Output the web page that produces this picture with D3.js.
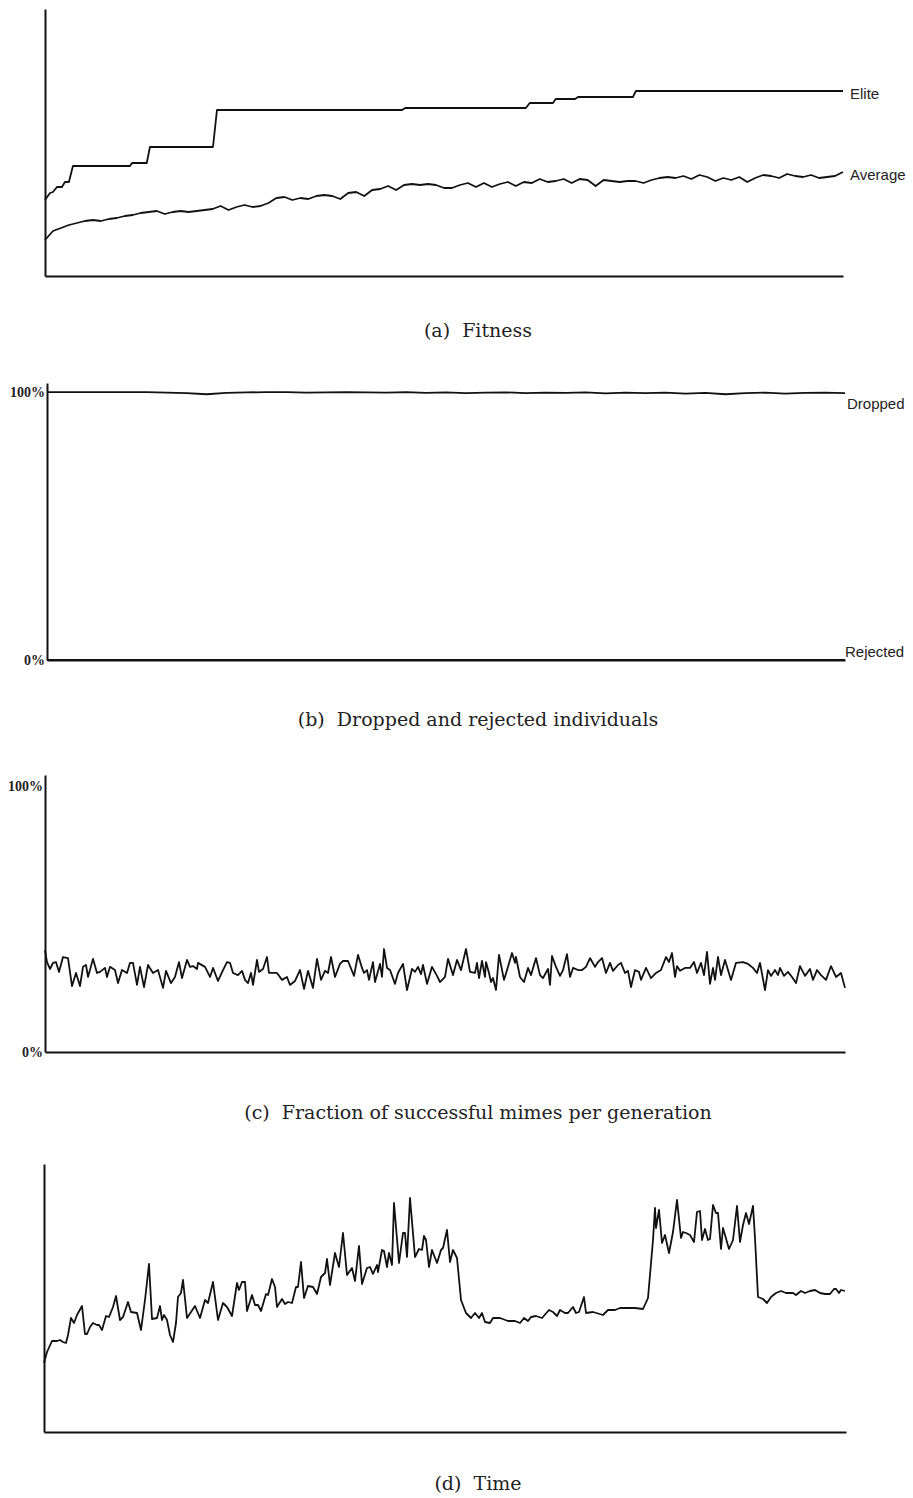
<!DOCTYPE html>
<html>
<head>
<meta charset="utf-8">
<script src="https://cdn.jsdelivr.net/npm/d3@7/dist/d3.min.js"></script>
<style>
  html, body { margin: 0; padding: 0; background: #fff; }
  svg { display: block; }
  .cap { font-family: "DejaVu Serif", serif; font-size: 19px; fill: #222; white-space: pre; }
  .lab { font-family: "Liberation Sans", Arial, sans-serif; font-size: 15px; fill: #222; }
  .tick text { font-family: "Liberation Serif", serif; font-size: 14px; font-weight: bold; fill: #222; }
</style>
</head>
<body>
<svg id="chart" width="913" height="1498"></svg>
<script>
// ---------------- DATA ----------------
// (a) Fitness: elite (step changes) as [generation, fitness]
const eliteFitness = [[0,76],[2.5,83],[4,84],[6,89],[8.5,89],[10,94],[12,94],[14,110],[42.6,110],[43.6,113],[51,113],[52.6,129],[84.2,129],[86.2,166],[179,166],[180.5,168],[241,168],[243,173],[254.6,173],[256,177],[265.7,177],[267.2,179],[294.7,179],[296.2,185],[400,185]];
// (a) Fitness: average, every 4 generations (0..400)
const averageFitness = [36,45,48,51,53,55,56,55,57,58,
  60,61,63,64,65,62,64,65,64,65,
  66,67,70,66,69,71,69,70,73,78,
  79,76,78,77,80,81,80,77,83,84,
  80,86,87,90,86,91,92,91,92,91,
  88,88,91,93,89,93,89,92,94,90,
  94,93,97,94,95,97,93,97,96,90,
  96,95,94,95,95,93,96,98,99,98,
  100,97,101,99,95,98,96,99,94,98,
  101,100,98,102,100,99,101,98,99,100,
  104];
const averageStep = 4;
// (b) Dropped / rejected individuals (%), every 10 generations
const droppedPct = [100,100,100,100,100,100,99.8,99.6,99.2,99.7,99.9,100,100,99.8,99.9,100,99.9,99.8,100,99.7,99.9,99.6,99.8,99.9,99.6,99.8,99.7,99.9,99.5,99.8,99.6,99.8,99.4,99.7,99.2,99.6,99.8,99.4,99.7,99.8,99.6];
const rejectedPct = [[0,0],[400,0]];
const dropStep = 10;
// (c) Fraction of successful mimes per generation (%), [generation, %]
const successPct = [[0,38.3],[1,33.8],[2.5,31.2],[4,33.5],[5.5,33.8],[7,30.1],[9,35.7],[11.5,35.3],[13.5,24.8],[15.5,29.7],[17.5,24.8],[19,32.0],[20.5,32.7],[21.5,28.2],[24,35.0],[26,29.7],[27.5,30.1],[30,31.6],[31,28.2],[32.5,32.0],[35,30.8],[36.5,25.9],[38.5,30.8],[41,29.7],[42.5,33.5],[44,33.5],[46,25.2],[47.5,32.0],[49.5,24.4],[51.5,32.7],[54,29.7],[56.5,30.8],[59,24.1],[60.5,30.5],[63,25.9],[65,28.2],[67,33.8],[68.5,27.8],[71,34.6],[72.5,32.0],[74,32.3],[76,31.2],[76.5,33.5],[80,32.0],[82.5,28.2],[84,31.6],[86.5,26.7],[89,30.8],[91,33.8],[92.5,33.5],[94,29.7],[96.5,28.9],[98.5,30.5],[100,27.1],[101.5,25.9],[103,29.7],[104,25.2],[106,34.6],[107,30.1],[109,31.2],[111,35.7],[112,29.7],[116,29.7],[118.5,27.1],[121,28.2],[122.5,25.2],[125,26.7],[127.5,30.8],[129.5,23.7],[131.5,30.5],[134,24.1],[136,35.0],[138,27.1],[140,30.5],[141.5,29.7],[143,35.7],[145,28.2],[147.5,33.1],[149,34.2],[151.5,34.2],[154.5,28.6],[156.5,36.5],[158.5,31.6],[159.5,29.7],[161,30.8],[162,27.1],[164,33.8],[165,26.3],[167.5,33.1],[168.5,28.2],[169.5,38.7],[171,31.6],[172.5,30.8],[175,25.6],[176.5,29.7],[179,33.1],[181,23.3],[183.5,31.2],[185,30.1],[186.5,32.0],[188,29.3],[189,32.7],[191,25.6],[193.5,32.0],[196,28.6],[197.5,26.3],[200,28.2],[201.5,35.0],[204,28.9],[206,34.6],[208,30.8],[210.5,38.7],[212.5,30.1],[215,29.7],[216,33.5],[217,27.8],[218.5,34.2],[220,28.2],[220.5,33.8],[222,29.7],[223,26.3],[224,27.8],[225.5,23.3],[227,36.5],[229.5,27.1],[231.5,32.0],[233.5,37.2],[235,33.5],[235.5,35.7],[237.5,28.2],[239.5,26.3],[241.5,31.6],[243,28.9],[245.5,35.3],[247.5,28.9],[249,27.8],[251.5,31.2],[252.5,25.2],[253.5,36.1],[255.5,32.0],[257.5,28.6],[259,30.8],[261,36.8],[262.5,28.2],[264,31.6],[266.5,30.8],[268.5,30.8],[270.5,32.0],[272.5,35.3],[275,32.0],[276.5,33.8],[278.5,35.3],[280.5,29.7],[282.5,33.5],[284,30.5],[286.5,32.7],[288,33.5],[290,29.7],[291.5,30.5],[293,24.4],[295,30.8],[297,30.1],[298,27.1],[300.5,31.6],[303,27.8],[305.5,29.7],[308,30.8],[310.5,35.7],[312,33.8],[313.5,37.2],[315,28.2],[316,32.3],[317.5,30.5],[320,31.6],[322.5,31.6],[324.5,33.8],[326,29.7],[328,33.5],[329.5,28.9],[331,37.6],[332.5,25.6],[334,31.6],[335,27.1],[336.5,35.7],[338,28.9],[340,34.6],[343,27.1],[345.5,33.5],[349,33.8],[351.5,33.1],[354,31.6],[356,29.7],[357.5,33.5],[360,23.3],[361.5,30.8],[363,28.6],[365,30.8],[366.5,28.9],[367.5,31.6],[369.5,28.6],[371.5,30.1],[373.5,28.2],[375.5,25.9],[377.5,32.3],[380,28.6],[382.5,31.2],[384,27.1],[386,30.8],[388,28.9],[390.5,27.1],[393,32.3],[395.5,28.2],[398,29.7],[400,24.1]];
// (d) Time per generation, [generation, time]
const timeData = [[0,69],[1.5,80],[4,91],[6.5,91],[8,92],[9.5,90],[11,89],[12,97],[13.5,114],[15,109],[16.5,117],[19,126],[20.5,98],[21.5,98],[23,105],[24.5,109],[26.5,107],[27.5,107],[29,102],[31,116],[32.5,115],[34.5,125],[36,136],[38,112],[39.5,115],[42,130],[43.5,120],[46.5,119],[48.5,102],[50.5,132],[52.5,168],[54,113],[56.5,114],[58,126],[59,112],[60,117],[61.5,112],[63,97],[64.5,90],[66,109],[67,135],[68.5,139],[69.5,152],[71.5,114],[73.5,120],[75.5,126],[78,114],[80.5,132],[82,129],[84.5,150],[87,112],[89.5,129],[91.5,125],[94,116],[96.5,149],[97.5,142],[99,150],[100.5,150],[101.5,121],[104,137],[105.5,127],[107,127],[108.5,121],[111,138],[112,137],[114,153],[115.5,145],[116.5,125],[119,133],[120.5,128],[122,130],[124,129],[126,145],[127,145],[128.5,170],[130,134],[132,146],[134.5,145],[136.5,138],[138.5,155],[140.5,159],[141.5,173],[143,147],[145.5,179],[147.5,165],[149.5,199],[151.5,157],[154,164],[155.5,151],[157.5,186],[159,148],[161.5,164],[163,165],[164.5,158],[166.5,167],[167,160],[169,182],[170,181],[171.5,165],[172.5,179],[174,167],[175,229],[177.5,169],[179.5,199],[180.5,199],[181.5,175],[183,234],[185.5,175],[187.5,183],[189,182],[190,196],[191,192],[192.5,165],[194,182],[196.5,169],[198.5,182],[199.5,184],[201.5,202],[203,170],[204.5,182],[206.5,174],[208.5,132],[211,119],[213.5,114],[215.5,119],[217.5,114],[219,119],[220.5,110],[223,109],[224.5,114],[228,114],[232,111],[235.5,111],[238,109],[240,114],[242,111],[243.5,115],[246,116],[249,114],[252.5,122],[254.5,120],[256.5,116],[258,122],[260.5,119],[262,119],[264.5,125],[266,119],[267.5,120],[270,135],[271,119],[274.5,120],[279.5,117],[282,122],[285.5,122],[288,124],[291,124],[295.5,124],[299.5,123],[302,134],[304.5,192],[305.5,224],[306,204],[307.5,222],[309,189],[310.5,197],[312.5,179],[314.5,200],[316.5,232],[318.5,194],[319.5,200],[321,199],[323,197],[325,190],[326.5,220],[328,221],[329,192],[330.5,203],[332,192],[333,193],[334.5,227],[336,219],[337,219],[338.5,183],[339.5,204],[342.5,183],[344.5,192],[346.5,226],[348,190],[349.5,207],[351,219],[352.5,208],[354.5,226],[355.5,194],[357,135],[359.5,133],[361.5,129],[363.5,135],[366,139],[368.5,141],[371,139],[374.5,139],[376,137],[378.5,141],[380.5,139],[383,141],[385.5,142],[388,139],[390.5,138],[393,138],[395,143],[396,143],[397.5,139],[398.5,142],[400.5,141]];
const captions = ["(a)  Fitness", "(b)  Dropped and rejected individuals", "(c)  Fraction of successful mimes per generation", "(d)  Time"];
const pctTicks = [0, 100];

// ---------------- DRAW ----------------
const svg = d3.select("#chart");
const lineW = 1.8, axisW = 2;
const capX = 478;

function axes(g, x, y, ticks) {
  const xa = d3.axisBottom(x).tickValues([]).tickSizeOuter(0);
  g.append("g").attr("transform", `translate(0,${y.range()[0]})`).call(xa)
    .select(".domain").attr("stroke", "#111").attr("stroke-width", axisW);
  const ya = d3.axisLeft(y).tickSize(0).tickSizeOuter(0).tickPadding(2);
  if (ticks) ya.tickValues(ticks).tickFormat(d => d + "%"); else ya.tickValues([]);
  const yg = g.append("g").attr("transform", `translate(${x.range()[0]},0)`).call(ya);
  yg.select(".domain").attr("stroke", "#111").attr("stroke-width", axisW);
}
function path(g, data, line) {
  g.append("path").datum(data).attr("d", line)
    .attr("fill", "none").attr("stroke", "#111").attr("stroke-width", lineW)
    .attr("stroke-linejoin", "round");
}
function caption(g, y, t) {
  g.append("text").attr("class", "cap").attr("x", capX).attr("y", y).attr("dy", "0.35em").attr("text-anchor", "middle").text(t);
}

// (a)
{
  const g = svg.append("g");
  const x = d3.scaleLinear().domain([0, 400]).range([45, 843]);
  const y = d3.scaleLinear().domain([0, 267]).range([276, 9]);
  axes(g, x, y, null);
  const l = d3.line().x(d => x(d[0])).y(d => y(d[1]));
  path(g, eliteFitness, l);
  path(g, averageFitness.map((v, i) => [i * averageStep, v]), l);
  g.append("text").attr("class", "lab").attr("x", x(400) + 7).attr("y", y(eliteFitness[eliteFitness.length - 1][1]) + 3).attr("dy", "0.35em").text("Elite");
  g.append("text").attr("class", "lab").attr("x", x(400) + 7).attr("y", y(averageFitness[averageFitness.length - 1]) + 3).attr("dy", "0.35em").text("Average");
  caption(g, 330, captions[0]);
}
// (b)
{
  const g = svg.append("g");
  const x = d3.scaleLinear().domain([0, 400]).range([47, 845]);
  const y = d3.scaleLinear().domain([0, 103.4]).range([660, 383]);
  axes(g, x, y, pctTicks);
  const l = d3.line().x(d => x(d[0])).y(d => y(d[1]));
  path(g, droppedPct.map((v, i) => [i * dropStep, v]), l);
  path(g, rejectedPct, l);
  g.append("text").attr("class", "lab").attr("x", x(400) + 2).attr("y", y(100) + 12).attr("dy", "0.35em").text("Dropped");
  g.append("text").attr("class", "lab").attr("x", x(400)).attr("y", y(0) - 8).attr("dy", "0.35em").text("Rejected");
  caption(g, 719, captions[1]);
}
// (c)
{
  const g = svg.append("g");
  const x = d3.scaleLinear().domain([0, 400]).range([45, 845]);
  const y = d3.scaleLinear().domain([0, 104.1]).range([1052, 775]);
  axes(g, x, y, pctTicks);
  const l = d3.line().x(d => x(d[0])).y(d => y(d[1]));
  path(g, successPct, l);
  caption(g, 1112, captions[2]);
}
// (d)
{
  const g = svg.append("g");
  const x = d3.scaleLinear().domain([0, 401]).range([44, 846]);
  const y = d3.scaleLinear().domain([0, 268]).range([1432, 1164]);
  axes(g, x, y, null);
  const l = d3.line().x(d => x(d[0])).y(d => y(d[1]));
  path(g, timeData, l);
  caption(g, 1483, captions[3]);
}
</script>
</body>
</html>
